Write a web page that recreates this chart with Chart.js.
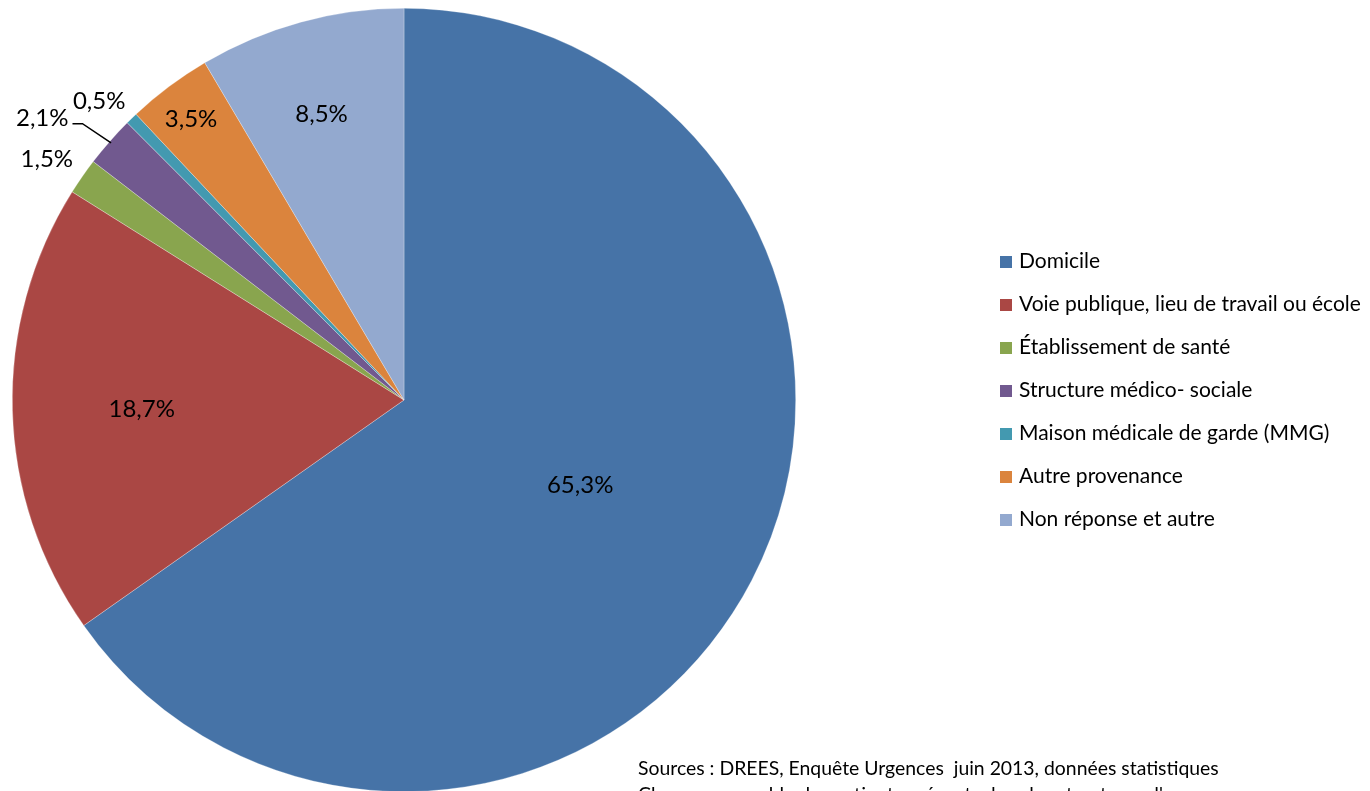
<!DOCTYPE html>
<html>
<head>
<meta charset="utf-8">
<script src="https://cdn.jsdelivr.net/npm/chart.js@4.4.1/dist/chart.umd.min.js"></script>
<style>
  html, body { margin: 0; padding: 0; background: #fff; overflow: hidden; }
  #wrap { position: relative; width: 1370px; height: 791px; overflow: hidden; }
  #c { position: absolute; left: 0; top: 0; }
  .legend { position: absolute; left: 1000px; top: 247px; font-family: Lato, "Open Sans", sans-serif; font-size: 21px; color: #000; }
  .legend .item { position: absolute; left: 0; white-space: nowrap; height: 26px; line-height: 26px; }
  .legend .sw { display: inline-block; width: 12px; height: 12px; vertical-align: middle; margin-right: 7px; position: relative; top: -1px; }
  .src { position: absolute; left: 638px; font-family: Lato, "Open Sans", sans-serif; font-size: 19.4px; color: #000; white-space: nowrap; }
</style>
</head>
<body>
<div id="wrap">
  <canvas id="c" width="1370" height="800"></canvas>
  <div class="legend" id="legend"></div>
  <div class="src" style="top:756px">Sources : DREES, Enquête Urgences&nbsp; juin 2013, données statistiques</div>
  <div class="src" style="top:782px">Champ : ensemble des patients présents dans les structures d'urgences</div>
</div>
<script>
// ---- data ----
const categories = [
  "Domicile",
  "Voie publique, lieu de travail ou école",
  "Établissement de santé",
  "Structure médico- sociale",
  "Maison médicale de garde (MMG)",
  "Autre provenance",
  "Non réponse et autre"
];
const values = [65.3, 18.7, 1.5, 2.1, 0.5, 3.5, 8.5];
const valueLabels = ["65,3%", "18,7%", "1,5%", "2,1%", "0,5%", "3,5%", "8,5%"];

// ---- style ----
const colors = ["#4673A7", "#AA4744", "#89A54E", "#71598F", "#4399B0", "#DB843D", "#93A9CF"];
// label placement: [radius factor, angle shift in degrees]
const labelPlacement = [[0.50, -1.5], [0.67, -0.5], [1.10, -0.8], [1.17, -3.4], [1.09, -1.5], [0.90, -0.3], [0.76, -0.8]];
const leaderFor = [false, false, false, true, false, false, false];

// legend (HTML)
const legendEl = document.getElementById('legend');
categories.forEach((name, i) => {
  const d = document.createElement('div');
  d.className = 'item';
  d.style.top = (i * 43) + 'px';
  d.innerHTML = '<span class="sw" style="background:' + colors[i] + '"></span>' + name;
  legendEl.appendChild(d);
});

const labelPlugin = {
  id: 'sliceLabels',
  afterDatasetsDraw(chart) {
    const ctx = chart.ctx;
    const meta = chart.getDatasetMeta(0);
    ctx.save();
    ctx.font = '24px Lato, "Open Sans", sans-serif';
    ctx.fillStyle = '#000';
    ctx.textAlign = 'center';
    ctx.textBaseline = 'middle';
    meta.data.forEach((arc, i) => {
      const p = arc.getProps(['x', 'y', 'startAngle', 'endAngle', 'outerRadius'], true);
      const mid = (p.startAngle + p.endAngle) / 2 + labelPlacement[i][1] * Math.PI / 180;
      const r = p.outerRadius * labelPlacement[i][0];
      const lx = p.x + Math.cos(mid) * r;
      const ly = p.y + Math.sin(mid) * r;
      ctx.fillText(valueLabels[i], lx, ly);
      if (leaderFor[i]) {
        const w = ctx.measureText(valueLabels[i]).width;
        const realMid = (p.startAngle + p.endAngle) / 2;
        const ex = p.x + Math.cos(realMid) * p.outerRadius * 0.995;
        const ey = p.y + Math.sin(realMid) * p.outerRadius * 0.995;
        ctx.beginPath();
        ctx.strokeStyle = '#000';
        ctx.lineWidth = 1.5;
        ctx.moveTo(lx + w / 2 + 4, ly + 5);
        ctx.lineTo(lx + w / 2 + 14, ly + 5);
        ctx.lineTo(ex, ey);
        ctx.stroke();
      }
    });
    ctx.restore();
  }
};

new Chart(document.getElementById('c'), {
  type: 'pie',
  data: {
    labels: categories,
    datasets: [{
      data: values,
      backgroundColor: colors,
      borderColor: 'rgba(255,255,255,0.45)',
      borderWidth: 0.6
    }]
  },
  options: {
    responsive: false,
    animation: false,
    rotation: 0,
    layout: { padding: { left: 12, right: 574, top: 8, bottom: 8 } },
    plugins: { legend: { display: false }, tooltip: { enabled: false } }
  },
  plugins: [labelPlugin]
});
</script>
</body>
</html>
